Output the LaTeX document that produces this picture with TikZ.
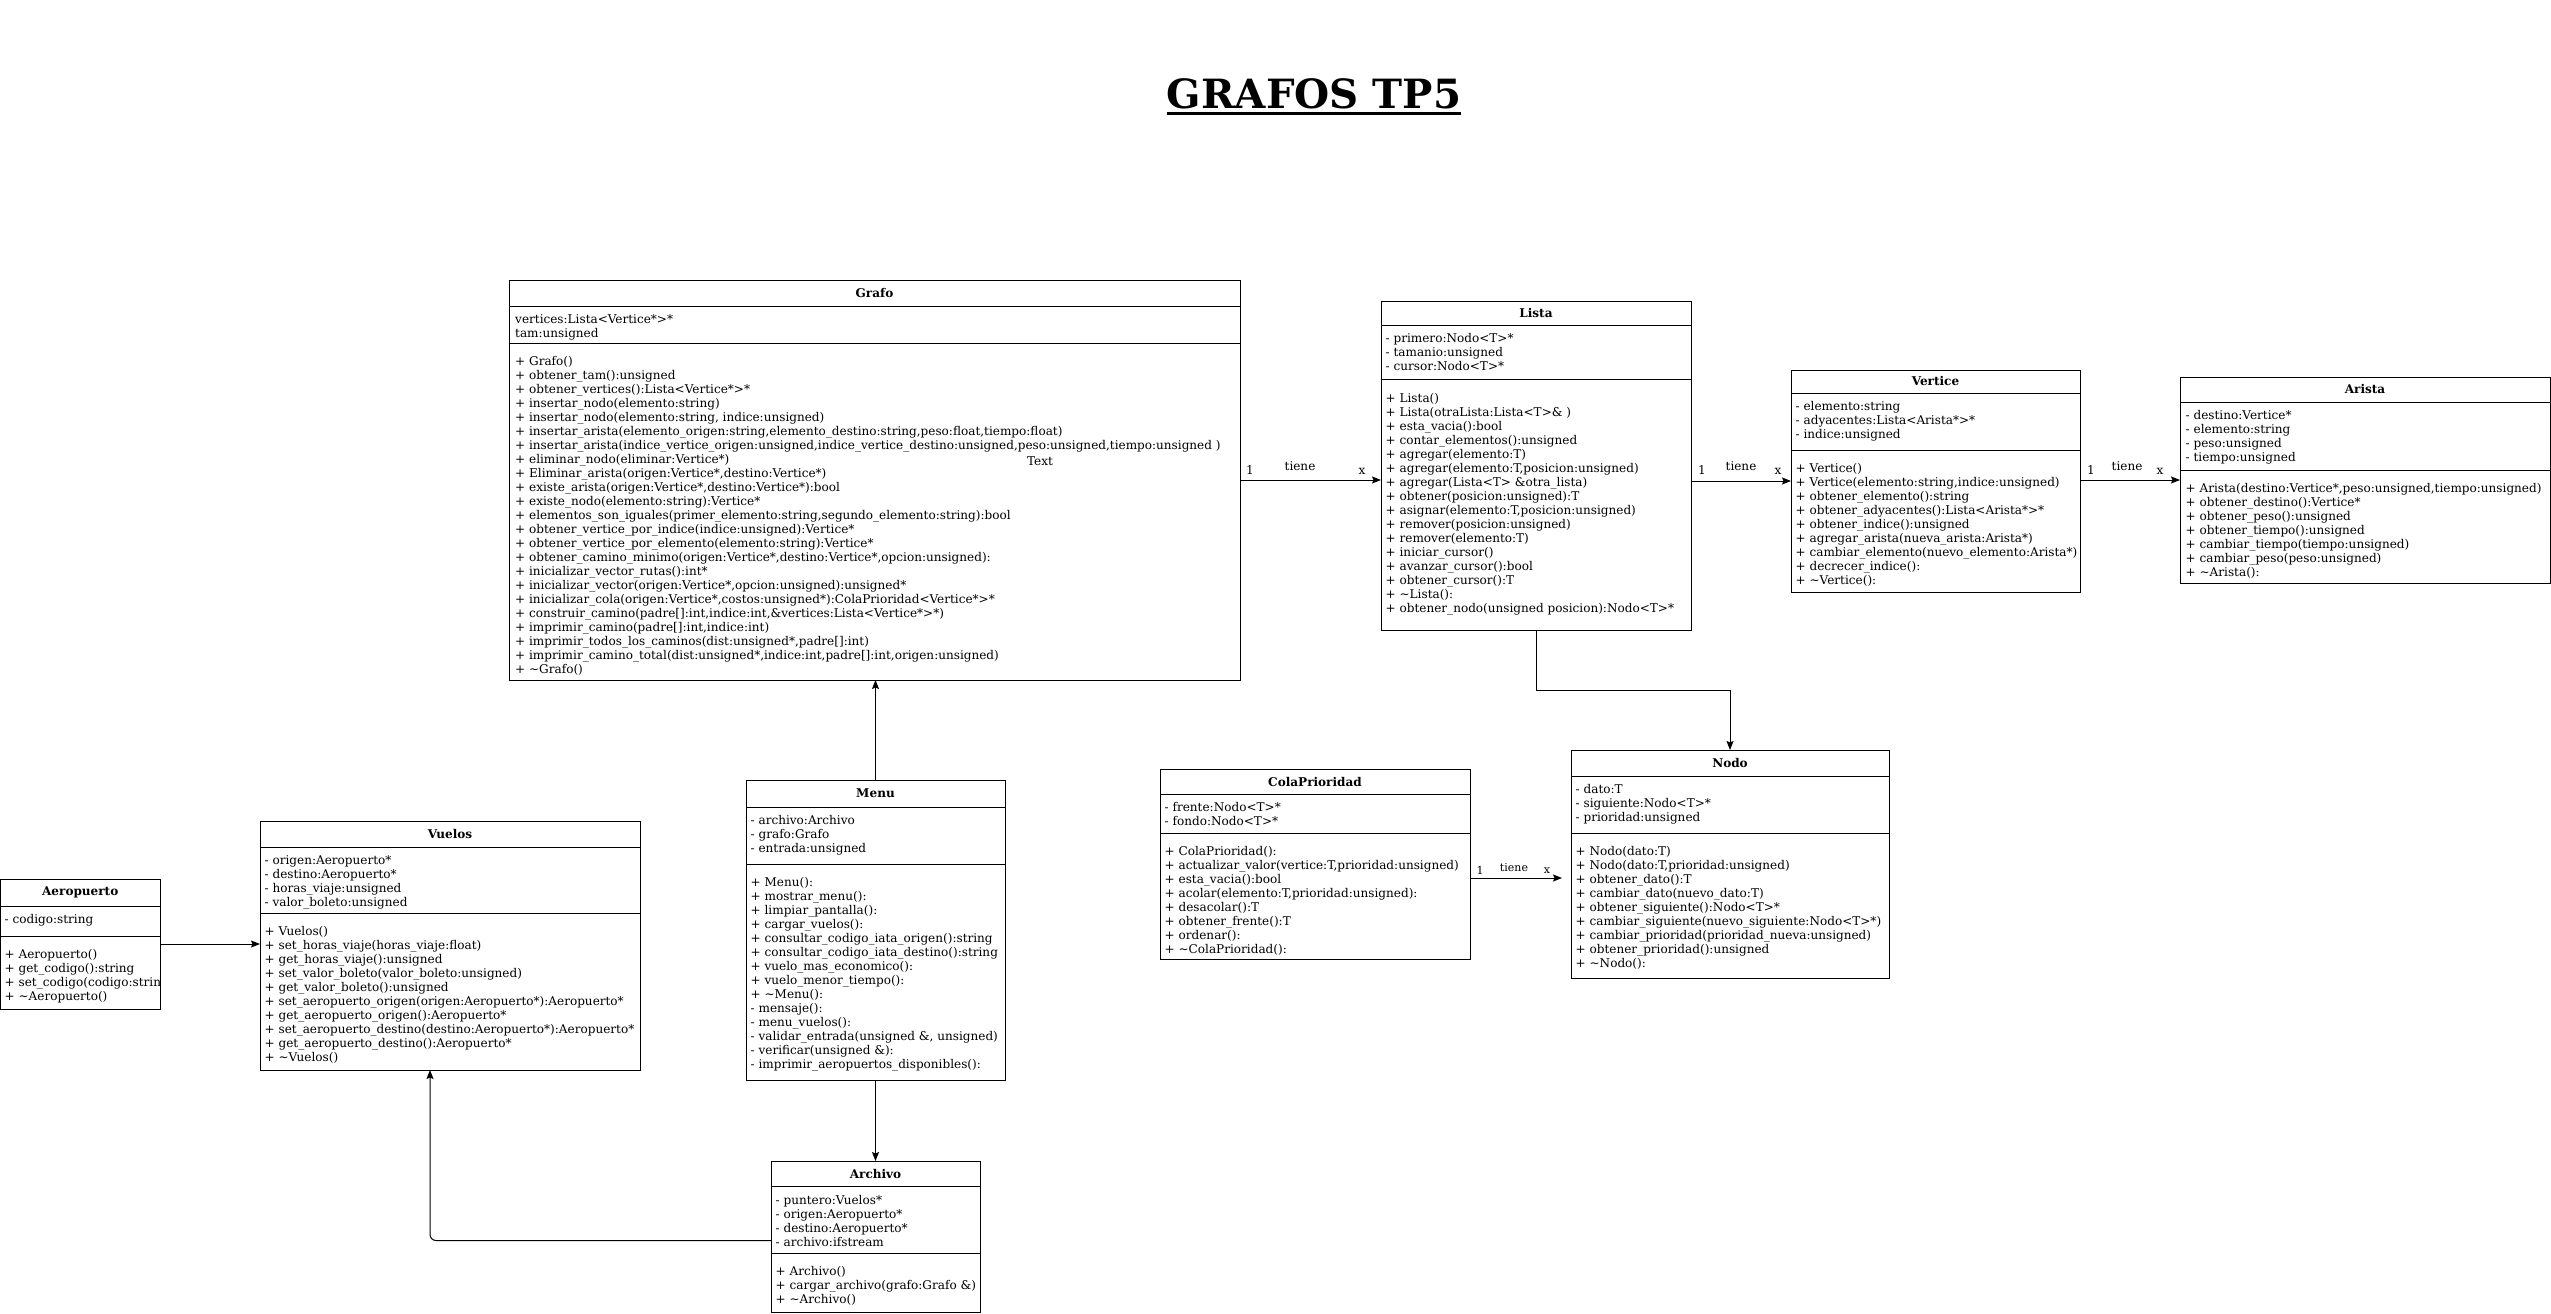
\documentclass[tikz,border=0pt]{standalone}
\usepackage{fontspec}
\setmainfont{DejaVu Serif}
\usetikzlibrary{arrows.meta,calc}
\newcommand\bodyfont{\fontsize{12.05}{14}\selectfont}
\tikzset{
  cls/.style={draw=black, line width=1pt, fill=white, inner sep=0pt, outer sep=0pt, anchor=north west},
  sepl/.style={draw=black, line width=1pt},
  ttl/.style={font=\bodyfont\bfseries, inner sep=0pt},
  txt/.style={font=\bodyfont, inner sep=0pt, anchor=north west, align=left, yshift=5.4pt},
  arr/.style={draw=black, line width=1pt, -{Stealth[length=9pt,width=7pt,inset=1.5pt]}},
  lbl/.style={font=\bodyfont, inner sep=0pt},
  slbl/.style={font=\fontsize{11}{13}\selectfont, inner sep=0pt},
}
\newcommand\klass[8]{%
  \node[cls, minimum width={#4-#2}, minimum height={#5-#3}] (#1) at (#2,#3) {};
  \draw[sepl] (#2,#6) -- (#4,#6);
  \draw[sepl] (#2,#7) -- (#4,#7);
  \node[ttl] (#1-title) at ({(#2+#4)/2},{(#3+#6)/2}) {#8};
}
\newcommand\tld{\textasciitilde}
\begin{document}
\begin{tikzpicture}[x=1pt,y=-1pt]
\fill[white] (0,0) rectangle (2551,1314);
\useasboundingbox (0,0) rectangle (2551,1314);

% main title
\node[font=\fontsize{40.3}{48}\selectfont\bfseries, inner sep=0pt, anchor=base] (title) at (1314,108) {GRAFOS TP5};
\draw[line width=2.5pt] ($(title.base west)+(0,5.5)$) -- ($(title.base east)+(0,5.5)$);

% ---------------- Grafo
\klass{grafo}{509}{280}{1240}{680}{306}{343}{Grafo}
\node[txt] (grafo-a) at (515,318.5) {\strut vertices:Lista<Vertice*>*\\tam:unsigned};
\node[txt] (grafo-m) at (515,360.5) {\strut + Grafo()\\
+ obtener\_tam():unsigned\\
+ obtener\_vertices():Lista<Vertice*>*\\
+ insertar\_nodo(elemento:string)\\
+ insertar\_nodo(elemento:string, indice:unsigned)\\
+ insertar\_arista(elemento\_origen:string,elemento\_destino:string,peso:float,tiempo:float)\\
+ insertar\_arista(indice\_vertice\_origen:unsigned,indice\_vertice\_destino:unsigned,peso:unsigned,tiempo:unsigned )\\
+ eliminar\_nodo(eliminar:Vertice*)\\
+ Eliminar\_arista(origen:Vertice*,destino:Vertice*)\\
+ existe\_arista(origen:Vertice*,destino:Vertice*):bool\\
+ existe\_nodo(elemento:string):Vertice*\\
+ elementos\_son\_iguales(primer\_elemento:string,segundo\_elemento:string):bool\\
+ obtener\_vertice\_por\_indice(indice:unsigned):Vertice*\\
+ obtener\_vertice\_por\_elemento(elemento:string):Vertice*\\
+ obtener\_camino\_minimo(origen:Vertice*,destino:Vertice*,opcion:unsigned):\\
+ inicializar\_vector\_rutas():int*\\
+ inicializar\_vector(origen:Vertice*,opcion:unsigned):unsigned*\\
+ inicializar\_cola(origen:Vertice*,costos:unsigned*):ColaPrioridad<Vertice*>*\\
+ construir\_camino(padre[]:int,indice:int,\&vertices:Lista<Vertice*>*)\\
+ imprimir\_camino(padre[]:int,indice:int)\\
+ imprimir\_todos\_los\_caminos(dist:unsigned*,padre[]:int)\\
+ imprimir\_camino\_total(dist:unsigned*,indice:int,padre[]:int,origen:unsigned)\\
+ \tld Grafo()};
\node[lbl] (stray) at (1040,461) {Text};

% ---------------- Lista
\klass{lista}{1381}{301}{1691}{630}{325}{379}{Lista}
\node[txt] (lista-a) at (1385.5,337.5) {\strut - primero:Nodo<T>*\\- tamanio:unsigned\\- cursor:Nodo<T>*};
\node[txt] (lista-m) at (1385.5,398) {\strut + Lista()\\
+ Lista(otraLista:Lista<T>\& )\\
+ esta\_vacia():bool\\
+ contar\_elementos():unsigned\\
+ agregar(elemento:T)\\
+ agregar(elemento:T,posicion:unsigned)\\
+ agregar(Lista<T> \&otra\_lista)\\
+ obtener(posicion:unsigned):T\\
+ asignar(elemento:T,posicion:unsigned)\\
+ remover(posicion:unsigned)\\
+ remover(elemento:T)\\
+ iniciar\_cursor()\\
+ avanzar\_cursor():bool\\
+ obtener\_cursor():T\\
+ \tld Lista():\\
+ obtener\_nodo(unsigned posicion):Nodo<T>*};

% ---------------- Vertice
\klass{vertice}{1791}{370}{2080}{592}{393}{450}{Vertice}
\node[txt] (vertice-a) at (1795.5,405.5) {\strut - elemento:string\\- adyacentes:Lista<Arista*>*\\- indice:unsigned};
\node[txt] (vertice-m) at (1795.5,467.5) {\strut + Vertice()\\
+ Vertice(elemento:string,indice:unsigned)\\
+ obtener\_elemento():string\\
+ obtener\_adyacentes():Lista<Arista*>*\\
+ obtener\_indice():unsigned\\
+ agregar\_arista(nueva\_arista:Arista*)\\
+ cambiar\_elemento(nuevo\_elemento:Arista*)\\
+ decrecer\_indice():\\
+ \tld Vertice():};

% ---------------- Arista
\klass{arista}{2180}{377}{2550}{583}{402}{470}{Arista}
\node[txt] (arista-a) at (2185.5,414.5) {\strut - destino:Vertice*\\- elemento:string\\- peso:unsigned\\- tiempo:unsigned};
\node[txt] (arista-m) at (2185.5,487.5) {\strut + Arista(destino:Vertice*,peso:unsigned,tiempo:unsigned)\\
+ obtener\_destino():Vertice*\\
+ obtener\_peso():unsigned\\
+ obtener\_tiempo():unsigned\\
+ cambiar\_tiempo(tiempo:unsigned)\\
+ cambiar\_peso(peso:unsigned)\\
+ \tld Arista():};

% ---------------- Nodo
\klass{nodo}{1571}{750}{1889}{978}{776}{833}{Nodo}
\node[txt] (nodo-a) at (1575.5,788.5) {\strut - dato:T\\- siguiente:Nodo<T>*\\- prioridad:unsigned};
\node[txt] (nodo-m) at (1575.5,850.5) {\strut + Nodo(dato:T)\\
+ Nodo(dato:T,prioridad:unsigned)\\
+ obtener\_dato():T\\
+ cambiar\_dato(nuevo\_dato:T)\\
+ obtener\_siguiente():Nodo<T>*\\
+ cambiar\_siguiente(nuevo\_siguiente:Nodo<T>*)\\
+ cambiar\_prioridad(prioridad\_nueva:unsigned)\\
+ obtener\_prioridad():unsigned\\
+ \tld Nodo():};

% ---------------- ColaPrioridad
\klass{cola}{1160}{769}{1470}{959}{794}{833}{ColaPrioridad}
\node[txt] (cola-a) at (1164.5,806.5) {\strut - frente:Nodo<T>*\\- fondo:Nodo<T>*};
\node[txt] (cola-m) at (1164.5,850.5) {\strut + ColaPrioridad():\\
+ actualizar\_valor(vertice:T,prioridad:unsigned)\\
+ esta\_vacia():bool\\
+ acolar(elemento:T,prioridad:unsigned):\\
+ desacolar():T\\
+ obtener\_frente():T\\
+ ordenar():\\
+ \tld ColaPrioridad():};

% ---------------- Menu
\klass{menu}{746}{780}{1005}{1080}{807}{864}{Menu}
\node[txt] (menu-a) at (750.5,819.5) {\strut - archivo:Archivo\\- grafo:Grafo\\- entrada:unsigned};
\node[txt] (menu-m) at (750.5,881.5) {\strut + Menu():\\
+ mostrar\_menu():\\
+ limpiar\_pantalla():\\
+ cargar\_vuelos():\\
+ consultar\_codigo\_iata\_origen():string\\
+ consultar\_codigo\_iata\_destino():string\\
+ vuelo\_mas\_economico():\\
+ vuelo\_menor\_tiempo():\\
+ \tld Menu():\\
- mensaje():\\
- menu\_vuelos():\\
- validar\_entrada(unsigned \&, unsigned)\\
- verificar(unsigned \&):\\
- imprimir\_aeropuertos\_disponibles():};

% ---------------- Vuelos
\klass{vuelos}{260}{821}{640}{1070}{847}{913}{Vuelos}
\node[txt] (vuelos-a) at (264.5,859.5) {\strut - origen:Aeropuerto*\\- destino:Aeropuerto*\\- horas\_viaje:unsigned\\- valor\_boleto:unsigned};
\node[txt] (vuelos-m) at (264.5,930.5) {\strut + Vuelos()\\
+ set\_horas\_viaje(horas\_viaje:float)\\
+ get\_horas\_viaje():unsigned\\
+ set\_valor\_boleto(valor\_boleto:unsigned)\\
+ get\_valor\_boleto():unsigned\\
+ set\_aeropuerto\_origen(origen:Aeropuerto*):Aeropuerto*\\
+ get\_aeropuerto\_origen():Aeropuerto*\\
+ set\_aeropuerto\_destino(destino:Aeropuerto*):Aeropuerto*\\
+ get\_aeropuerto\_destino():Aeropuerto*\\
+ \tld Vuelos()};

% ---------------- Aeropuerto
\klass{aero}{0.5}{879}{160}{1009}{906}{936}{Aeropuerto}
\begin{scope}
\clip (0,879) rectangle (160,1009);
\node[txt] (aero-a) at (4.5,918.5) {\strut - codigo:string};
\node[txt] (aero-m) at (4.5,953.5) {\strut + Aeropuerto()\\
+ get\_codigo():string\\
+ set\_codigo(codigo:string)\\
+ \tld Aeropuerto()};
\end{scope}

% ---------------- Archivo
\klass{archivo}{771}{1161}{980}{1312}{1186}{1253}{Archivo}
\node[txt] (archivo-a) at (775.5,1199.5) {\strut - puntero:Vuelos*\\- origen:Aeropuerto*\\- destino:Aeropuerto*\\- archivo:ifstream};
\node[txt] (archivo-m) at (775.5,1270.5) {\strut + Archivo()\\
+ cargar\_archivo(grafo:Grafo \&)\\
+ \tld Archivo()};

% ---------------- connectors
\draw[arr] (grafo.east) -- (grafo.east -| lista.west);
\node[lbl] (g1) at (1250,470) {1};
\node[lbl] (g2) at (1300,466) {tiene};
\node[lbl] (g3) at (1362,471) {x};

\draw[arr] (vertice.west -| lista.east) -- (vertice.west);
\node[lbl] (v1) at (1702,470) {1};
\node[lbl] (v2) at (1741,466) {tiene};
\node[lbl] (v3) at (1778,471) {x};

\draw[arr] (arista.west -| vertice.east) -- (arista.west);
\node[lbl] (a1) at (2091,470) {1};
\node[lbl] (a2) at (2127,466) {tiene};
\node[lbl] (a3) at (2160,471) {x};

\draw[arr] (lista.south) |- ($(nodo.north)+(0,-60)$) -- (nodo.north);

\draw[arr] ($(cola.east)+(0,14)$) -- ($(nodo.west)+(-9,14)$);
\node[slbl] (c1) at (1480,870) {1};
\node[slbl] (c2) at (1514,868) {tiene};
\node[slbl] (c3) at (1547,871) {x};

\draw[arr] (menu.north) -- (menu.north |- grafo.south);
\draw[arr] (menu.south) -- (menu.south |- archivo.north);
\draw[arr] (aero.east) -- (aero.east -| vuelos.west);
\draw[arr, rounded corners=6pt] ($(archivo.west)+(0,4)$) -| ($(vuelos.south west)+(170,0)$);
\end{tikzpicture}
\end{document}
